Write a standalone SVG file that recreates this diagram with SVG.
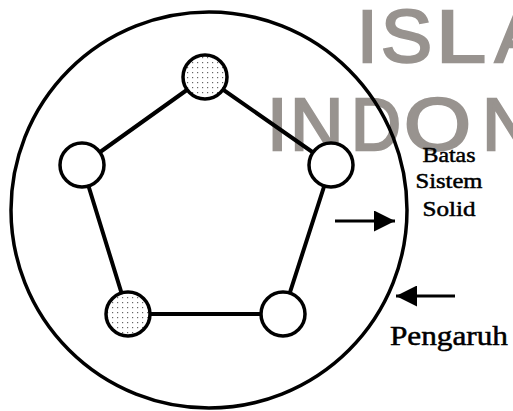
<svg xmlns="http://www.w3.org/2000/svg" width="513" height="411" viewBox="0 0 513 411">
  <defs>
    <pattern id="dots" width="5" height="5" patternUnits="userSpaceOnUse">
      <rect width="5" height="5" fill="#ffffff"/>
      <rect x="2" y="2" width="1.2" height="1.2" fill="#666"/>
    </pattern>
    <marker id="ah" viewBox="0 0 10 10" refX="10" refY="5" markerWidth="7" markerHeight="7" markerUnits="strokeWidth" orient="auto">
      <path d="M0,0 L10,5 L0,10 z" fill="#000"/>
    </marker>
  </defs>
  <style>
    .wm { font-family: "Liberation Sans", Arial, sans-serif; font-size: 74px; fill: #98938f; stroke: #98938f; stroke-width: 2.5px; }
    .node { stroke: #000; stroke-width: 3.5; }
    .plain { fill: #ffffff; }
    .dotted { fill: url(#dots); }
    .edge { stroke: #000; stroke-width: 4; fill: none; stroke-linecap: round; }
    .arrow { stroke: #000; stroke-width: 3; fill: none; }
    .lbl { font-family: "Liberation Serif", "Times New Roman", serif; fill: #000; stroke: #000; stroke-width: 0.5px; }
  </style>

  <g id="watermark">
    <text class="wm" x="357" y="62">I</text>
    <text class="wm" x="381" y="62" textLength="51" lengthAdjust="spacingAndGlyphs">S</text>
    <text class="wm" x="436" y="62" textLength="50" lengthAdjust="spacingAndGlyphs">L</text>
    <text class="wm" x="495" y="62">A</text>
    <text class="wm" x="267" y="150">I</text>
    <text class="wm" x="290" y="150">N</text>
    <text class="wm" x="351" y="150" textLength="50" lengthAdjust="spacingAndGlyphs">D</text>
    <text class="wm" x="404" y="150" textLength="67" lengthAdjust="spacingAndGlyphs">O</text>
    <text class="wm" x="482" y="150">N</text>
  </g>

  <g id="boundary">
    <circle cx="209" cy="210" r="198" fill="none" stroke="#000" stroke-width="3.5"/>
  </g>

  <g id="connectors">
    <line class="edge" x1="205" y1="77" x2="82" y2="165"/>
    <line class="edge" x1="205" y1="77" x2="331" y2="165"/>
    <line class="edge" x1="82" y1="165" x2="128" y2="314"/>
    <line class="edge" x1="331" y1="165" x2="283" y2="314"/>
    <line class="edge" x1="128" y1="314" x2="283" y2="314"/>
    <line class="arrow" x1="335" y1="221" x2="395" y2="221" marker-end="url(#ah)"/>
    <line class="arrow" x1="455" y1="296" x2="396" y2="296" marker-end="url(#ah)"/>
  </g>

  <g id="node-top"><circle class="node dotted" cx="205" cy="77" r="22"/></g>
  <g id="node-left"><circle class="node plain" cx="82" cy="165" r="22"/></g>
  <g id="node-right"><circle class="node plain" cx="331" cy="165" r="22"/></g>
  <g id="node-bottom-left"><circle class="node dotted" cx="128" cy="314" r="22"/></g>
  <g id="node-bottom-right"><circle class="node plain" cx="283" cy="314" r="22"/></g>

  <g id="label-batas">
    <text class="lbl" font-size="22" text-anchor="middle" x="449" y="162" textLength="53" lengthAdjust="spacingAndGlyphs">Batas</text>
    <text class="lbl" font-size="22" text-anchor="middle" x="449" y="188" textLength="67" lengthAdjust="spacingAndGlyphs">Sistem</text>
    <text class="lbl" font-size="22" text-anchor="middle" x="449" y="216" textLength="53" lengthAdjust="spacingAndGlyphs">Solid</text>
  </g>
  <g id="label-pengaruh">
    <text class="lbl" font-size="27" x="390" y="345" textLength="118" lengthAdjust="spacingAndGlyphs">Pengaruh</text>
  </g>
</svg>
